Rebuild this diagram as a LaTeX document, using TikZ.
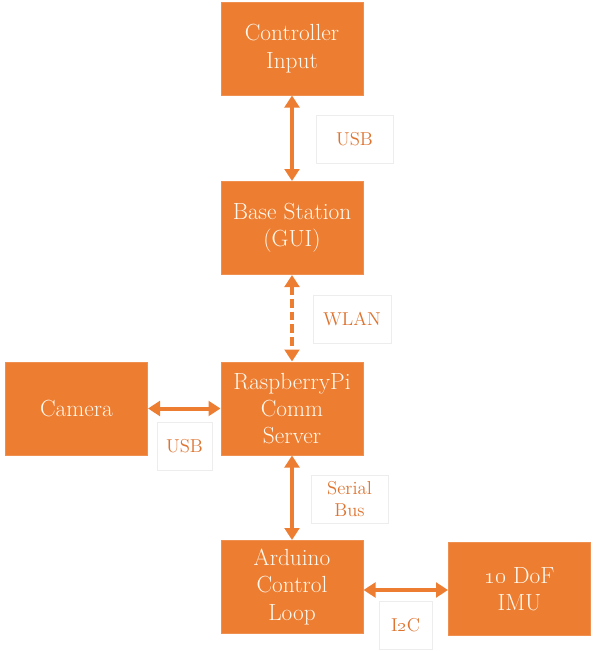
\documentclass[tikz,border=0pt]{standalone}
\usetikzlibrary{arrows.meta}
\definecolor{boxorange}{RGB}{237,125,49}
\definecolor{boxtext}{RGB}{255,249,238}
\definecolor{labtext}{RGB}{222,116,48}
\tikzset{every picture/.style={line width=0.75pt}}
\tikzset{
  unitbox/.style={fill=boxorange, draw=boxorange!85!white, text=boxtext, align=center,
    minimum width=106.5pt, minimum height=69.75pt, inner sep=0pt,
    font=\fontsize{17.5}{20.5}\selectfont},
  linklabel/.style={fill=white, draw=black!7, text=labtext, align=center,
    minimum height=36pt, inner sep=0pt, font=\fontsize{14}{16.5}\selectfont},
  link/.style={draw=boxorange, line width=3pt, {Triangle[length=9pt,width=11pt]}-{Triangle[length=9pt,width=11pt]}},
}
\begin{document}
\begin{tikzpicture}[x=0.75pt,y=0.75pt,yscale=-1,xscale=1]
\useasboundingbox (0,0) rectangle (597,651);

% Blocks
\node [unitbox] (ctrl) at (292,48.5) {Controller\\Input};
\node [unitbox] (base) at (292,228) {Base Station\\(GUI)};
\node [unitbox] (rpi) at (292,408.5) {RaspberryPi\\Comm\\Server};
\node [unitbox] (cam) at (76.5,408.5) {Camera};
\node [unitbox] (ard) at (292,587) {Arduino\\Control\\Loop};
\node [unitbox] (imu) at (519.5,589) {\oldstylenums{10} DoF\\IMU};

% Link labels
\node [linklabel, minimum width=57.75pt] (usbtop) at (354.5,139) {USB};
\node [linklabel, minimum width=58.5pt] (wlan) at (352,319) {WLAN};
\node [linklabel, minimum width=41.25pt] (usbcam) at (184.5,446) {USB};
\node [linklabel, minimum width=57.75pt] (serial) at (349.5,499) {Serial\\Bus};
\node [linklabel, minimum width=39.75pt] (itwoc) at (405.5,625.5) {I\oldstylenums{2}C};

% Links
\draw [link] (ctrl.south) -- (base.north);
\draw [link, dash pattern=on 6.5pt off 3pt] (base.south) -- (rpi.north);
\draw [link] (cam.east) -- (rpi.west);
\draw [link] (rpi.south) -- (ard.north);
\draw [link] (ard.east |- 0,590) -- (imu.west |- 0,590);

\end{tikzpicture}
\end{document}
